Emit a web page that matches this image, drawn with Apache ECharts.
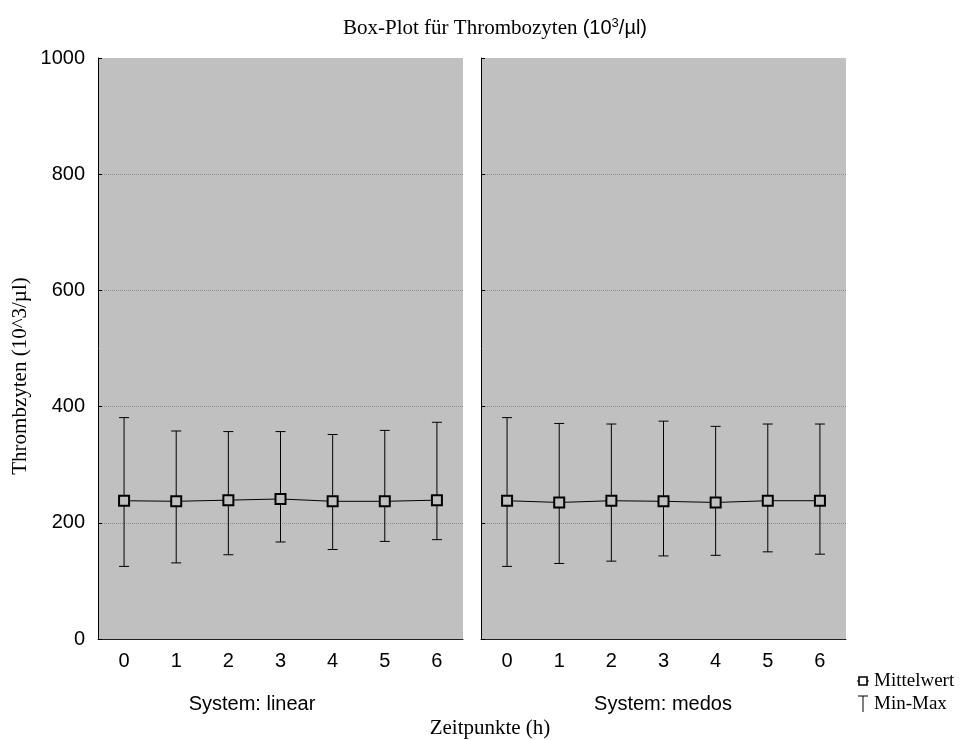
<!DOCTYPE html>
<html>
<head>
<meta charset="utf-8">
<script src="https://cdn.jsdelivr.net/npm/echarts@6/dist/echarts.min.js"></script>
<style>html,body{margin:0;padding:0;background:#fff}#c{width:973px;height:740px}</style>
</head>
<body>
<div id="c"></div>
<script>
const categories = ['0','1','2','3','4','5','6'];
const yTicks = [0, 200, 400, 600, 800, 1000];
const meanLinear = [238, 237, 239, 241, 237, 237, 239];
const minLinear  = [125, 131, 145, 167, 154, 168, 171];
const maxLinear  = [381, 358, 357, 357, 352, 359, 373];
const meanMedos  = [238, 235, 238, 237, 235, 238, 238];
const minMedos   = [125, 130, 134, 143, 144, 150, 146];
const maxMedos   = [381, 371, 370, 375, 366, 370, 370];
const panelNames = ['System: linear', 'System: medos'];

const chart = echarts.init(document.getElementById('c'));
const sans = 'Liberation Sans';
const serif = 'Liberation Serif';

function errRender(params, api) {
  const lo = api.coord([api.value(0), api.value(1)]);
  const hi = api.coord([api.value(0), api.value(2)]);
  const w = 5;
  const st = {stroke: '#000', lineWidth: 1};
  return {type: 'group', children: [
    {type: 'line', shape: {x1: lo[0], y1: lo[1], x2: hi[0], y2: hi[1]}, style: st},
    {type: 'line', shape: {x1: hi[0]-w, y1: hi[1], x2: hi[0]+w, y2: hi[1]}, style: st},
    {type: 'line', shape: {x1: lo[0]-w, y1: lo[1], x2: lo[0]+w, y2: lo[1]}, style: st}
  ]};
}

const grids = [
  {left: 98, top: 58, width: 365, height: 581, show: true, backgroundColor: '#c0c0c0', borderWidth: 0},
  {left: 481, top: 58, width: 365, height: 581, show: true, backgroundColor: '#c0c0c0', borderWidth: 0}
];
const xAxes = [0,1].map(i => ({
  type: 'category', gridIndex: i, data: categories, boundaryGap: true,
  axisLine: {lineStyle: {color: '#222', width: 1}},
  axisTick: {inside: true, alignWithLabel: true, length: 4, lineStyle: {color: '#222'}},
  axisLabel: {color: '#000', fontFamily: sans, fontSize: 20, margin: 12}
}));
const splitColors = yTicks.map((t, k) => k === yTicks.length - 1 ? 'rgba(0,0,0,0)' : '#8c8c8c');
const yAxes = [0,1].map(i => ({
  type: 'value', gridIndex: i, min: yTicks[0], max: yTicks[yTicks.length-1], interval: 200,
  axisLine: {show: true, lineStyle: {color: '#000', width: 1}},
  axisTick: {show: true, inside: true, length: 4, lineStyle: {color: '#000'}},
  axisLabel: {show: i === 0, color: '#000', fontFamily: sans, fontSize: 20, margin: 13, formatter: v => String(v)},
  splitLine: {show: true, lineStyle: {color: splitColors, type: [1, 1], width: 1}}
}));

const series = [];
[[meanLinear, minLinear, maxLinear], [meanMedos, minMedos, maxMedos]].forEach((d, i) => {
  series.push({
    type: 'custom', name: 'Min-Max', xAxisIndex: i, yAxisIndex: i,
    renderItem: errRender, encode: {x: 0, y: [1, 2]},
    data: categories.map((c, k) => [k, d[1][k], d[2][k]]), z: 2
  });
  series.push({
    type: 'line', name: 'Mittelwert', xAxisIndex: i, yAxisIndex: i,
    data: d[0], symbol: 'rect', symbolSize: 10,
    itemStyle: {color: '#c0c0c0', borderColor: '#000', borderWidth: 2},
    lineStyle: {color: '#000', width: 1}, z: 3
  });
});

chart.setOption({
  animation: false,
  backgroundColor: '#fff',
  title: {
    text: '{a|Box-Plot für Thrombozyten }{b|(10}{s|3}{b|/µl)}',
    left: 490, top: 12, textAlign: 'center',
    textStyle: {fontWeight: 'normal', rich: {
      a: {fontFamily: serif, fontSize: 21, fontWeight: 'normal', color: '#000'},
      b: {fontFamily: sans, fontSize: 20, fontWeight: 'normal', color: '#000'},
      s: {fontFamily: sans, fontSize: 13, fontWeight: 'normal', color: '#000', verticalAlign: 'top', padding: [0, 0, 9, 0]}
    }}
  },
  grid: grids, xAxis: xAxes, yAxis: yAxes, series: series,
  graphic: [
    {type: 'text', x: 20, y: 376, rotation: Math.PI / 2,
      style: {text: 'Thrombzyten (10^3/µl)', align: 'center', verticalAlign: 'middle', font: '21px "Liberation Serif"', fill: '#000'}},
    {type: 'text', x: 252, y: 704, style: {text: panelNames[0], align: 'center', verticalAlign: 'middle', font: '20px "Liberation Sans"', fill: '#000'}},
    {type: 'text', x: 663, y: 704, style: {text: panelNames[1], align: 'center', verticalAlign: 'middle', font: '20px "Liberation Sans"', fill: '#000'}},
    {type: 'text', x: 490, y: 728, style: {text: 'Zeitpunkte (h)', align: 'center', verticalAlign: 'middle', font: '21px "Liberation Serif"', fill: '#000'}},
    {type: 'line', shape: {x1: 857, y1: 681, x2: 869, y2: 681}, style: {stroke: '#000', lineWidth: 1}},
    {type: 'rect', shape: {x: 859, y: 677, width: 8, height: 8}, style: {fill: '#fff', stroke: '#000', lineWidth: 1.6}},
    {type: 'text', x: 874, y: 681, style: {text: 'Mittelwert', verticalAlign: 'middle', font: '19px "Liberation Serif"', fill: '#000'}},
    {type: 'line', shape: {x1: 858, y1: 696, x2: 868, y2: 696}, style: {stroke: '#000', lineWidth: 1}},
    {type: 'line', shape: {x1: 863, y1: 696, x2: 863, y2: 712}, style: {stroke: '#000', lineWidth: 1}},
    {type: 'text', x: 874, y: 704, style: {text: 'Min-Max', verticalAlign: 'middle', font: '19px "Liberation Serif"', fill: '#000'}}
  ]
});
</script>
</body>
</html>
